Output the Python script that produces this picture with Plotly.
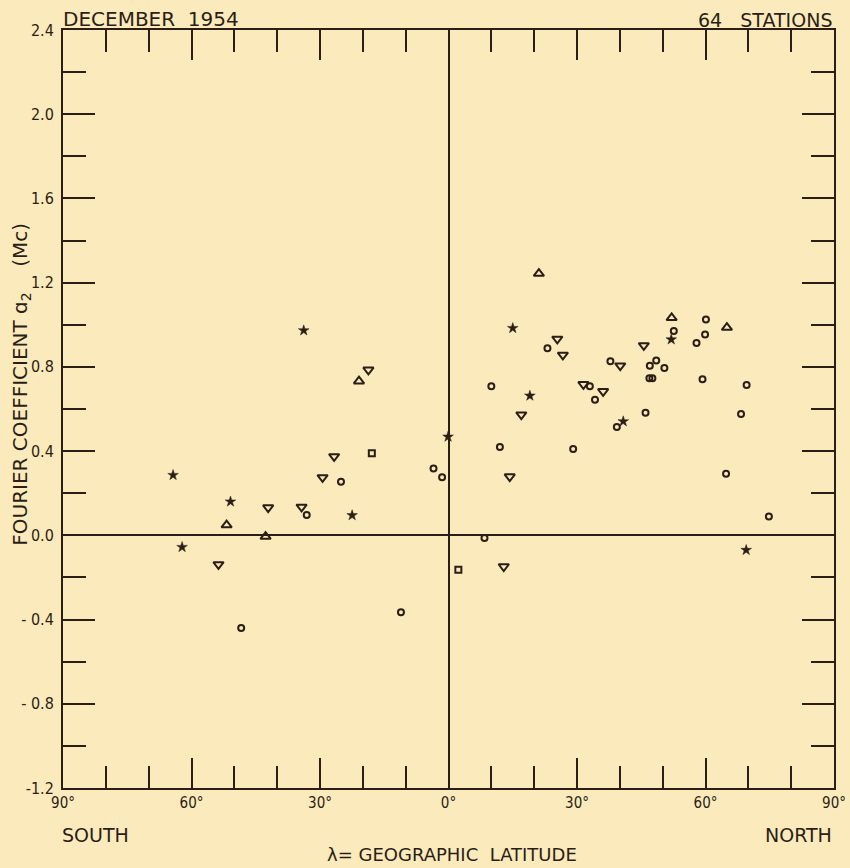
import plotly.graph_objects as go

# ---- data (latitude in degrees, negative = south; value in Mc) ----
star_lat = [-64.3, -62.2, -50.9, -33.8, -22.5, -0.1, 15.0, 19.0, 40.8, 52.0, 69.5]
star_val = [0.286, -0.056, 0.160, 0.973, 0.095, 0.468, 0.984, 0.663, 0.541, 0.930, -0.070]

tridown_lat = [-53.7, -42.1, -34.3, -29.4, -26.7, -18.7, 12.9, 14.3, 17.0, 25.4, 26.7,
               31.5, 36.1, 40.1, 45.6]
tridown_val = [-0.138, 0.132, 0.135, 0.275, 0.375, 0.786, -0.148, 0.279, 0.573, 0.933, 0.857,
               0.717, 0.684, 0.806, 0.902]

triup_lat = [-51.8, -42.7, -20.9, 21.1, 52.1, 65.0]
triup_val = [0.049, -0.006, 0.732, 1.243, 1.033, 0.987]

square_lat = [-17.9, 2.3]
square_val = [0.390, -0.164]

circle_lat = [-48.4, -33.1, -25.1, -11.1, -3.5, -1.5, 8.4, 10.0, 12.0, 23.1, 29.1, 33.0,
              34.2, 37.8, 39.3, 46.0, 47.0, 46.9, 47.6, 48.5, 50.4, 52.6, 57.9, 59.3,
              59.9, 60.1, 64.8, 68.3, 69.6, 74.8]
circle_val = [-0.440, 0.097, 0.254, -0.365, 0.318, 0.276, -0.013, 0.708, 0.419, 0.889, 0.410, 0.708,
              0.644, 0.827, 0.514, 0.582, 0.806, 0.746, 0.746, 0.830, 0.795, 0.970, 0.914, 0.741,
              0.954, 1.025, 0.292, 0.576, 0.714, 0.090]

x_tickvals = [-90, -60, -30, 0, 30, 60, 90]
x_ticktext = ["90°", "60°", "30°", "0°", "30°", "60°", "90°"]
y_tickvals = [2.4, 2.0, 1.6, 1.2, 0.8, 0.4, 0.0, -0.4, -0.8, -1.2]
y_ticktext = ["2.4", "2.0", "1.6", "1.2", "0.8", "0.4", "0.0", "- 0.4", "- 0.8", "-1.2"]

# ---- style ----
INK = "#2a1e16"
BG = "#FBEABB"
NARROW = "Liberation Sans Narrow, DejaVu Sans Condensed, Arial Narrow, Roboto, sans-serif"
WIDE = "DejaVu Sans, Liberation Sans, sans-serif"
SP = "\u00a0"

fig = go.Figure()

def add(lat, val, symbol, size, lw):
    fig.add_trace(go.Scatter(
        x=lat, y=val, mode="markers", showlegend=False, hoverinfo="x+y",
        marker=dict(symbol=symbol, size=size, color=INK, line=dict(color=INK, width=lw)),
    ))

add(star_lat, star_val, "star", 8, 0.5)
add(tridown_lat, tridown_val, "triangle-down-open", 9, 2)
add(triup_lat, triup_val, "triangle-up-open", 9, 2)
add(square_lat, square_val, "square-open", 6, 2)
add(circle_lat, circle_val, "circle-open", 6, 2)

fig.update_xaxes(
    range=[-90, 90], showgrid=False, zeroline=True, zerolinecolor=INK, zerolinewidth=2,
    showline=True, linecolor=INK, linewidth=2, mirror="allticks", automargin=False,
    ticks="inside", ticklen=30, tickwidth=2, tickcolor=INK,
    tickvals=x_tickvals, ticktext=x_ticktext,
    tickfont=dict(family=NARROW, size=15, color=INK),
    minor=dict(dtick=10, ticks="inside", ticklen=22, tickwidth=2, tickcolor=INK, showgrid=False),
)
fig.update_yaxes(
    range=[-1.2, 2.4], showgrid=False, zeroline=True, zerolinecolor=INK, zerolinewidth=2,
    showline=True, linecolor=INK, linewidth=2, mirror="allticks", automargin=False,
    ticks="inside", ticklen=32, tickwidth=2, tickcolor=INK,
    tickvals=y_tickvals, ticktext=y_ticktext,
    tickfont=dict(family=NARROW, size=16, color=INK),
    ticklabelstandoff=4,
    minor=dict(dtick=0.2, ticks="inside", ticklen=23, tickwidth=2, tickcolor=INK, showgrid=False),
)

ytitle = "FOURIER COEFFICIENT ɑ<sub>2</sub>" + SP * 4 + "(Mc)"

annotations = [
    dict(text="DECEMBER" + SP * 2 + "1954", x=0, y=1, xref="paper", yref="paper", xanchor="left",
         yanchor="bottom", showarrow=False, yshift=-3, xshift=-2,
         font=dict(family=WIDE, size=20, color=INK)),
    dict(text="64" + SP * 3 + "STATIONS", x=1, y=1, xref="paper", yref="paper", xanchor="right",
         yanchor="bottom", showarrow=False, yshift=-3,
         font=dict(family=WIDE, size=19, color=INK)),
    dict(text="SOUTH", x=0, y=0, xref="paper", yref="paper", xanchor="left",
         yanchor="top", showarrow=False, yshift=-34, xshift=-3,
         font=dict(family=WIDE, size=19, color=INK)),
    dict(text="NORTH", x=1, y=0, xref="paper", yref="paper", xanchor="right",
         yanchor="top", showarrow=False, yshift=-34, xshift=0,
         font=dict(family=WIDE, size=19, color=INK)),
    dict(text="λ=" + SP + "GEOGRAPHIC" + SP * 2 + "LATITUDE", x=0.505, y=0, xref="paper", yref="paper",
         xanchor="center", yanchor="top", showarrow=False, yshift=-55, borderpad=0,
         font=dict(family=WIDE, size=18, color=INK)),
    dict(text=ytitle, x=0, y=0.532, xref="paper",
         yref="paper", xanchor="center", yanchor="middle", showarrow=False,
         textangle=-90, xshift=-42,
         font=dict(family=WIDE, size=20, color=INK)),
]

fig.update_layout(
    width=850, height=868,
    margin=dict(l=63, r=16, t=30, b=80),
    paper_bgcolor=BG, plot_bgcolor=BG,
    annotations=annotations,
    showlegend=False,
)

fig.write_html("out.html", config={"displayModeBar": False},
               post_script="document.body.style.margin='0';document.body.style.overflow='hidden';")
